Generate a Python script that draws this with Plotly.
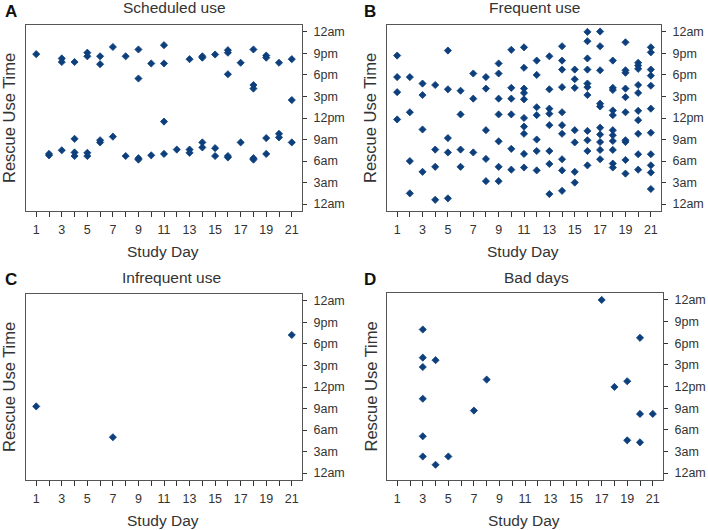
import plotly.graph_objects as go

W, H = 708, 530

# ---- data (day, hour of day 0-24) ----
sched_day = [1, 2, 2, 3, 3, 3, 4, 4, 4, 4, 5, 5, 5, 5, 6, 6, 6, 6, 7, 7, 8, 8,
             9, 9, 9, 9, 10, 10, 11, 11, 11, 11, 12, 13, 13, 13, 14, 14, 14, 14,
             15, 15, 15, 16, 16, 16, 16, 16, 17, 17, 18, 18, 18, 18, 18,
             19, 19, 19, 19, 20, 20, 20, 21, 21, 21]
sched_hour = [20.9, 6.8, 7.0, 20.3, 19.8, 7.5, 19.8, 9.1, 7.2, 6.7, 21.1, 20.6, 7.15, 6.7,
              20.6, 19.5, 8.9, 8.6, 21.9, 9.4, 20.6, 6.7,
              21.55, 17.5, 6.4, 6.2, 19.6, 6.8, 22.15, 19.6, 11.5, 7.0, 7.6, 20.2, 7.6, 7.15,
              20.6, 20.4, 8.6, 7.9, 20.85, 7.8, 6.7, 21.45, 21.1, 18.1, 6.7, 6.5, 19.7, 8.6,
              21.55, 16.6, 16.1, 6.4, 6.2, 20.7, 20.4, 9.2, 7.0, 19.7, 9.8, 9.3, 20.2, 14.5, 8.6]

freq_day = ([1] * 4 + [2] * 4 + [3] * 4 + [4] * 4 + [5] * 5 + [6] * 4 + [7] * 3 + [8] * 5 +
            [9] * 7 + [10] * 6 + [11] * 10 + [12] * 7 + [13] * 8 + [14] * 10 + [15] * 7 +
            [16] * 11 + [17] * 10 + [18] * 11 + [19] * 10 + [20] * 10 + [21] * 11)
freq_hour = [20.7, 17.7, 15.6, 11.8,
             17.7, 12.8, 6.0, 1.5,
             16.8, 15.2, 10.4, 4.5,
             16.6, 7.6, 5.2, 0.6,
             21.4, 16.0, 9.2, 7.2, 0.8,
             15.8, 12.5, 7.6, 5.2,
             18.2, 14.7, 7.2,
             17.7, 16.1, 10.3, 6.3, 3.2,
             19.6, 18.2, 14.7, 12.5, 8.75, 5.2, 3.2,
             21.5, 16.2, 14.7, 12.5, 7.7, 4.8,
             21.85, 19.0, 16.1, 15.5, 14.6, 12.0, 10.8, 9.8, 7.0, 5.1,
             20.0, 18.0, 13.5, 12.4, 9.0, 7.4, 4.7,
             20.6, 16.0, 13.3, 12.6, 11.0, 7.4, 5.6, 1.4,
             22.0, 20.0, 18.75, 16.3, 12.8, 11.0, 9.8, 6.25, 4.7, 1.85,
             18.75, 17.4, 16.2, 10.3, 8.6, 4.5, 3.0,
             24.0, 22.7, 20.3, 18.75, 16.8, 16.3, 15.2, 10.2, 8.9, 7.4, 5.4,
             24.05, 22.0, 18.65, 14.0, 13.6, 10.65, 9.7, 8.65, 7.55, 6.25,
             20.0, 16.2, 15.9, 13.05, 12.4, 10.3, 9.6, 8.8, 7.55, 5.65, 5.1,
             22.55, 18.65, 18.3, 16.1, 14.9, 12.8, 8.9, 8.65, 6.15, 4.25,
             19.7, 19.3, 18.85, 16.6, 15.5, 13.0, 11.7, 9.8, 6.95, 4.8,
             21.85, 21.15, 18.75, 17.9, 16.5, 13.3, 9.95, 6.95, 5.4, 4.4, 2.1]

infreq_day = [1, 7, 21]
infreq_hour = [9.3, 5.0, 19.25]

bad_day = [3, 3, 3, 3, 3, 3, 4, 4, 5, 7, 8, 17, 18, 19, 19, 20, 20, 20, 21]
bad_hour = [19.9, 16.0, 14.7, 10.3, 5.1, 2.3, 15.65, 1.15, 2.3, 8.66, 12.96, 24.0,
            11.94, 12.73, 4.54, 18.75, 8.2, 4.26, 8.2]

days = list(range(1, 22))
day_labels = [str(d) if d % 2 == 1 else "" for d in days]
hour_ticks = [0, 3, 6, 9, 12, 15, 18, 21, 24]
hour_labels = ["12am", "3am", "6am", "9am", "12pm", "3pm", "6pm", "9pm", "12am"]

titles = ["Scheduled use", "Frequent use", "Infrequent use", "Bad days"]
letters = ["A", "B", "C", "D"]
series = [(sched_day, sched_hour), (freq_day, freq_hour),
          (infreq_day, infreq_hour), (bad_day, bad_hour)]

# ---- layout geometry (pixels) ----
frames = [(26, 302, 25, 211), (387, 661, 25, 211),
          (26, 302, 294, 480), (387, 663, 293, 480)]
title_pos = [(174, 8), (534, 8), (171, 277), (536, 277)]
letter_pos = [(3, 12), (362, 12), (3, 279), (362, 279)]

MARK = "#0c3f7c"
TXT = "#333333"
FONT = "Liberation Sans, Arial, sans-serif"

fig = go.Figure()
annotations = []
for i, ((xs, ys), (x0, x1, y0, y1)) in enumerate(zip(series, frames)):
    n = "" if i == 0 else str(i + 1)
    fig.add_trace(go.Scatter(x=xs, y=ys, mode="markers", xaxis="x" + n, yaxis="y" + n,
                             marker=dict(symbol="diamond", size=5.5, color=MARK,
                                         line=dict(width=0.8, color=MARK)),
                             showlegend=False, hoverinfo="x+y"))
    fig.layout["xaxis" + n] = dict(
        domain=[x0 / W, x1 / W], anchor="y" + n, range=[0.2, 21.8],
        tickvals=days, ticktext=day_labels, ticks="outside", ticklen=5,
        tickcolor="#333", tickwidth=1, showgrid=False, zeroline=False,
        showline=True, mirror=True, linecolor="#555", linewidth=1,
        tickfont=dict(size=12.5, color=TXT, family=FONT), ticklabelstandoff=2,
        fixedrange=True)
    fig.layout["yaxis" + n] = dict(
        domain=[1 - y1 / H, 1 - y0 / H], anchor="x" + n, side="right",
        range=[-0.96, 24.96], tickvals=hour_ticks, ticktext=hour_labels,
        ticks="outside", ticklen=4, tickcolor="#333", tickwidth=1,
        showgrid=False, zeroline=False, showline=True, mirror=True,
        linecolor="#555", linewidth=1,
        tickfont=dict(size=12.5, color=TXT, family=FONT), ticklabelstandoff=4,
        fixedrange=True)
    tx, ty = title_pos[i]
    annotations.append(dict(text=titles[i], x=tx / W, y=1 - ty / H, xref="paper", yref="paper",
                            showarrow=False, xanchor="center", yanchor="middle",
                            font=dict(size=15.5, color=TXT, family=FONT)))
    lx, ly = letter_pos[i]
    annotations.append(dict(text="<b>" + letters[i] + "</b>", x=lx / W, y=1 - ly / H,
                            xref="paper", yref="paper", showarrow=False,
                            xanchor="left", yanchor="middle",
                            font=dict(size=17, color="#111", family=FONT)))
    cx = (x0 + x1) / 2
    annotations.append(dict(text="Study Day", x=(cx - 1) / W, y=1 - (y1 + 40) / H,
                            xref="paper", yref="paper", showarrow=False,
                            xanchor="center", yanchor="middle",
                            font=dict(size=15.5, color=TXT, family=FONT)))
    annotations.append(dict(text="Rescue Use Time", x=(x0 - 17) / W, y=1 - ((y0 + y1) / 2) / H,
                            xref="paper", yref="paper", showarrow=False, textangle=-90,
                            xanchor="center", yanchor="middle",
                            font=dict(size=16.5, color=TXT, family=FONT)))

fig.update_layout(width=W, height=H, margin=dict(l=0, r=0, t=0, b=0),
                  paper_bgcolor="white", plot_bgcolor="white",
                  annotations=annotations, font=dict(family=FONT, color=TXT))

fig.write_html("out.html", config={"displayModeBar": False},
               post_script="document.body.style.margin='0';document.body.style.padding='0';"
                           "document.body.style.overflow='hidden';")
